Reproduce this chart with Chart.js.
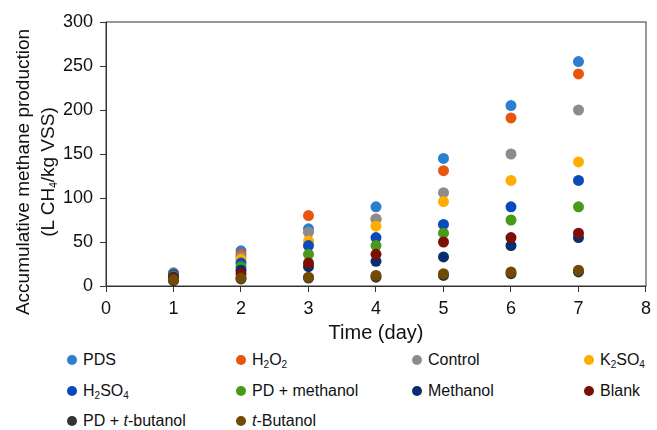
<!DOCTYPE html>
<html>
<head>
<meta charset="utf-8">
<script src="https://cdn.jsdelivr.net/npm/chart.js@4/dist/chart.umd.min.js"></script>
<style>
  body { margin: 0; background: #fff; font-family: "Liberation Sans", Arial, sans-serif; }
  #wrap { position: relative; width: 657px; height: 430px; }
  #chartBox { position: absolute; left: 0; top: 0; width: 657px; height: 345px; }
  #ytitle {
    position: absolute; left: 35px; top: 172px; width: 330px;
    transform: translate(-50%, -50%) rotate(-90deg);
    text-align: center; font-size: 19px; line-height: 25px; color: #111;
  }
  #legend { position: absolute; left: 0; top: 0; width: 657px; font-size: 16px; color: #111; }
  .item { position: absolute; display: flex; align-items: center; height: 20px; }
  .dot { width: 10px; height: 10px; border-radius: 50%; margin-left: -5px; margin-right: 6px; }
  sub { font-size: 10px; vertical-align: -3px; line-height: 0; }
</style>
</head>
<body>
<div id="wrap">
  <div id="chartBox"><canvas id="methaneChart"></canvas></div>
  <div id="ytitle">Accumulative methane production<br>(L CH<sub>4</sub>/kg VSS)</div>
  <div id="legend"></div>
</div>
<script>
// days of the run
const days = [1, 2, 3, 4, 5, 6, 7];

// accumulated methane (L CH4/kg VSS)
const pds = [15, 40, 65, 90, 145, 205, 255];
const h2o2 = [14, 36, 80, 76, 131, 191, 241];
const control = [13, 33, 61, 76, 106, 150, 200];
const k2so4 = [12, 30, 51, 68, 96, 120, 141];
const h2so4 = [13, 26, 46, 55, 70, 90, 120];
const pdMethanol = [11, 22, 36, 46, 60, 75, 90];
const methanol = [10, 18, 22, 28, 33, 46, 55];
const blank = [9, 14, 26, 36, 50, 55, 60];
const pdButanol = [6, 8, 9, 10, 12, 14, 16];
const butanol = [7, 9, 10, 12, 14, 16, 18];

const xTicks = [0, 1, 2, 3, 4, 5, 6, 7, 8];
const yTicks = [0, 50, 100, 150, 200, 250, 300];

const series = [
    { label: 'PDS', html: 'PDS', data: pds, color: '#2a7fd0' },
    { label: 'H2O2', html: 'H<sub>2</sub>O<sub>2</sub>', data: h2o2, color: '#e8560e' },
    { label: 'Control', html: 'Control', data: control, color: '#8c8c8c' },
    { label: 'K2SO4', html: 'K<sub>2</sub>SO<sub>4</sub>', data: k2so4, color: '#ffae00' },
    { label: 'H2SO4', html: 'H<sub>2</sub>SO<sub>4</sub>', data: h2so4, color: '#0a4bbb' },
    { label: 'PD + methanol', html: 'PD + methanol', data: pdMethanol, color: '#479a1a' },
    { label: 'Methanol', html: 'Methanol', data: methanol, color: '#082e6e' },
    { label: 'Blank', html: 'Blank', data: blank, color: '#7c1007' },
    { label: 'PD + t-butanol', html: 'PD + <i>t</i>-butanol', data: pdButanol, color: '#333333' },
    { label: 't-Butanol', html: '<i>t</i>-Butanol', data: butanol, color: '#714a06' }
];

// legend: 4 columns, dot centres
const legendCols = [72, 241, 417, 589];
const legendRows = [350, 381, 411];
const legendEl = document.getElementById('legend');
series.forEach((s, i) => {
    const div = document.createElement('div');
    div.className = 'item';
    div.style.left = legendCols[i % 4] + 'px';
    div.style.top = legendRows[Math.floor(i / 4)] + 'px';
    div.innerHTML = '<span class="dot" style="background:' + s.color + '"></span><span>' + s.html + '</span>';
    legendEl.appendChild(div);
});

// box round the plot area
const frame = {
    id: 'frame',
    afterDraw(chart) {
        const { ctx, chartArea: a } = chart;
        ctx.save();
        ctx.strokeStyle = '#333';
        ctx.lineWidth = 1;
        ctx.strokeRect(a.left, a.top, a.right - a.left, a.bottom - a.top);
        ctx.restore();
    }
};

const tickFont = { family: 'Liberation Sans', size: 18 };

new Chart(document.getElementById('methaneChart'), {
    type: 'scatter',
    data: {
        datasets: series.map((s, i) => ({
            label: s.label,
            data: days.map((d, j) => ({ x: d, y: s.data[j] })),
            backgroundColor: s.color,
            borderColor: s.color,
            pointRadius: 5.5,
            pointBorderWidth: 0,
            order: series.length - i // later series sit on top
        }))
    },
    options: {
        responsive: true,
        maintainAspectRatio: false,
        animation: false,
        layout: { padding: { top: 22, right: 5, left: 0, bottom: 0 } },
        plugins: { legend: { display: false }, tooltip: { enabled: false } },
        scales: {
            x: {
                type: 'linear',
                min: 0, max: 8,
                afterBuildTicks: axis => { axis.ticks = xTicks.map(v => ({ value: v })); },
                afterFit: axis => { axis.height = 59; },
                ticks: { font: tickFont, color: '#111', padding: 6, maxRotation: 0 },
                grid: { drawOnChartArea: false, tickLength: 6, color: '#333' },
                border: { color: '#333' },
                title: {
                    display: true, text: 'Time (day)', color: '#111',
                    font: { family: 'Liberation Sans', size: 20 },
                    padding: { top: 0, bottom: 0 }
                }
            },
            y: {
                min: 0, max: 300,
                afterBuildTicks: axis => { axis.ticks = yTicks.map(v => ({ value: v })); },
                afterFit: axis => { axis.width = 106; },
                ticks: { font: tickFont, color: '#111', padding: 7 },
                grid: { drawOnChartArea: false, tickLength: 6, color: '#333' },
                border: { color: '#333' }
            }
        }
    },
    plugins: [frame]
});
</script>
</body>
</html>
